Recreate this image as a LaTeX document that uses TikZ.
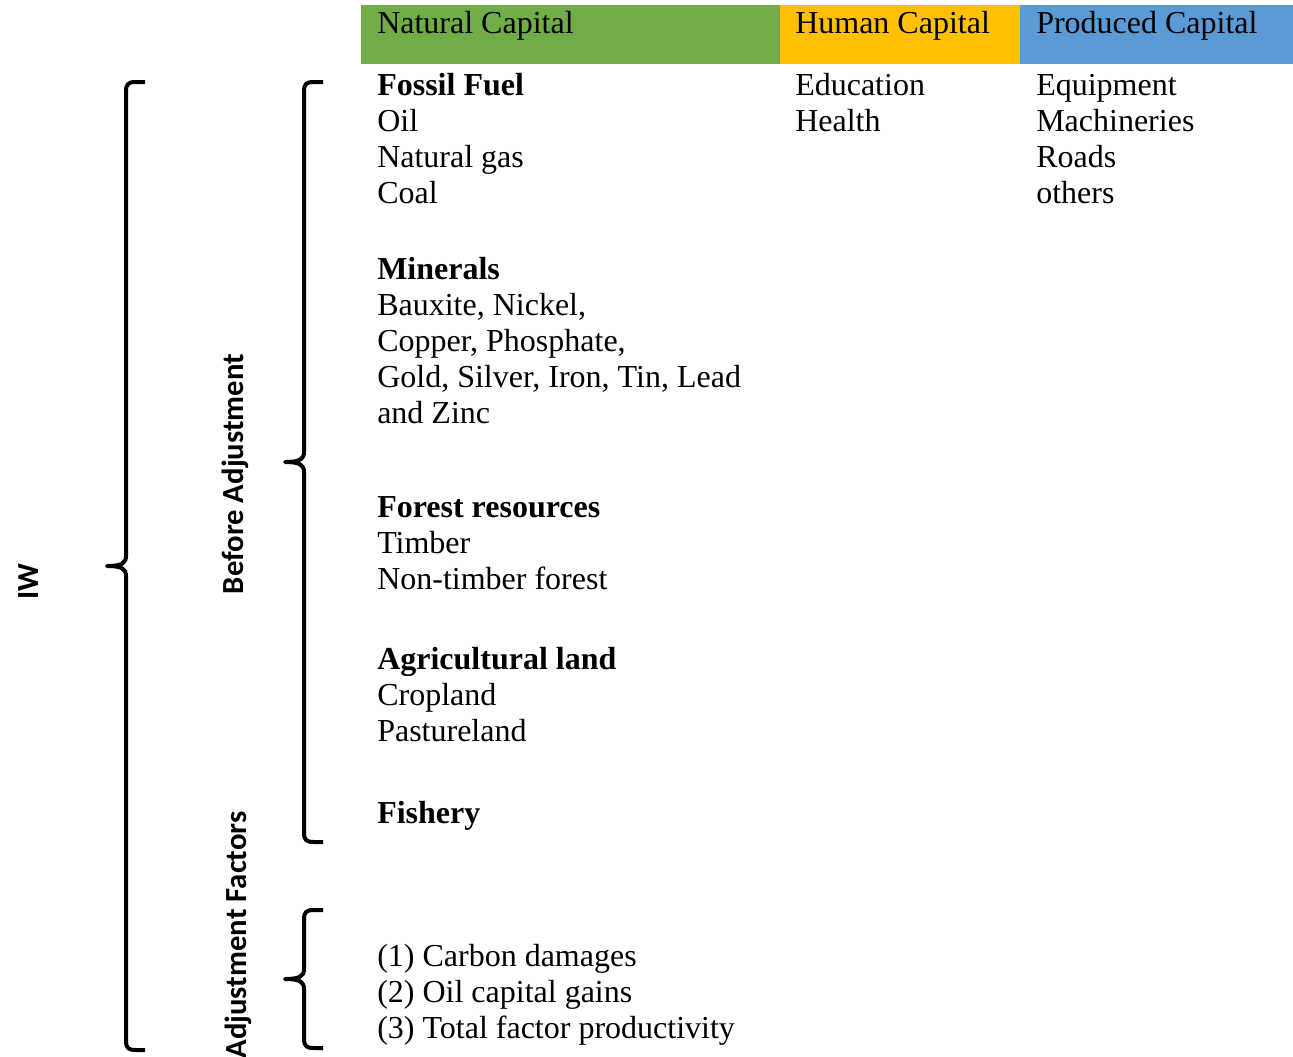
\documentclass[tikz,border=0pt]{standalone}
\usepackage{fontspec}
\setmainfont{Liberation Serif}
\newfontfamily\labelfont{Carlito}
\usepackage{xcolor}
\usetikzlibrary{positioning}
\definecolor{natgreen}{HTML}{70AD47}
\definecolor{humyellow}{HTML}{FFC000}
\definecolor{problue}{HTML}{5B9BD5}
\begin{document}
\begin{tikzpicture}[
  x=0.75pt, y=-0.75pt,
  txt/.style={anchor=base west, inner sep=0pt, align=left,
              font=\fontsize{24}{27}\selectfont},
  side/.style={rotate=90, anchor=base, inner sep=0pt,
               font=\labelfont\bfseries\fontsize{23}{27}\selectfont},
  brk/.style={line width=3pt, line cap=butt, line join=round}
]
\useasboundingbox (0,0) rectangle (1293,1057);

% Header bars
\fill[natgreen]  (361,5) rectangle (780,64);
\fill[humyellow] (780,5) rectangle (1020,64);
\fill[problue]   (1020,5) rectangle (1293,64);

\node[txt] (natural)  at (377,33)  {Natural Capital};
\node[txt] (human)    at (795,33)  {Human Capital};
\node[txt] (produced) at (1036,33) {Produced Capital};

% Natural capital items (placed at the baseline of their last line)
\node[txt] (fossil)   at (377,203)  {\textbf{Fossil Fuel}\\Oil\\Natural gas\\Coal};
\node[txt] (minerals) at (377,423)  {\textbf{Minerals}\\Bauxite, Nickel,\\Copper, Phosphate,\\Gold, Silver, Iron, Tin, Lead\\and Zinc};
\node[txt] (forest)   at (377,589)  {\textbf{Forest resources}\\Timber\\Non-timber forest};
\node[txt] (agri)     at (377,741)  {\textbf{Agricultural land}\\Cropland\\Pastureland};
\node[txt] (fishery)  at (377,823)  {\textbf{Fishery}};
\node[txt] (factors)  at (377,1038) {(1) Carbon damages\\(2) Oil capital gains\\(3) Total factor productivity};

% Human and produced capital items
\node[txt] (humitems) at (795,131)  {Education\\Health};
\node[txt] (proitems) at (1036,203) {Equipment\\Machineries\\Roads\\others};

% Side labels
\node[side] (iw)     at (38,582)  {IW};
\node[side] (before) at (243,474) {Before Adjustment};
\node[side] (adjust) at (246,935) {Adjustment Factors};

% Brackets
\draw[brk] (145,82) -- (136,82) .. controls (128,82) and (126,84) .. (126,92)
  -- (126,556) .. controls (126,563) and (122,566) .. (107,566)
  .. controls (122,566) and (126,569) .. (126,576)
  -- (126,1040) .. controls (126,1048) and (128,1050) .. (136,1050) -- (145,1050);
\draw[brk] (323,82) -- (314,82) .. controls (306,82) and (304,84) .. (304,92)
  -- (304,452) .. controls (304,459) and (300,462) .. (285,462)
  .. controls (300,462) and (304,465) .. (304,472)
  -- (304,832) .. controls (304,840) and (306,842) .. (314,842) -- (323,842);
\draw[brk] (323,910) -- (314,910) .. controls (306,910) and (304,912) .. (304,920)
  -- (304,969) .. controls (304,976) and (300,979) .. (285,979)
  .. controls (300,979) and (304,982) .. (304,989)
  -- (304,1038) .. controls (304,1046) and (306,1048) .. (314,1048) -- (323,1048);

\end{tikzpicture}
\end{document}
